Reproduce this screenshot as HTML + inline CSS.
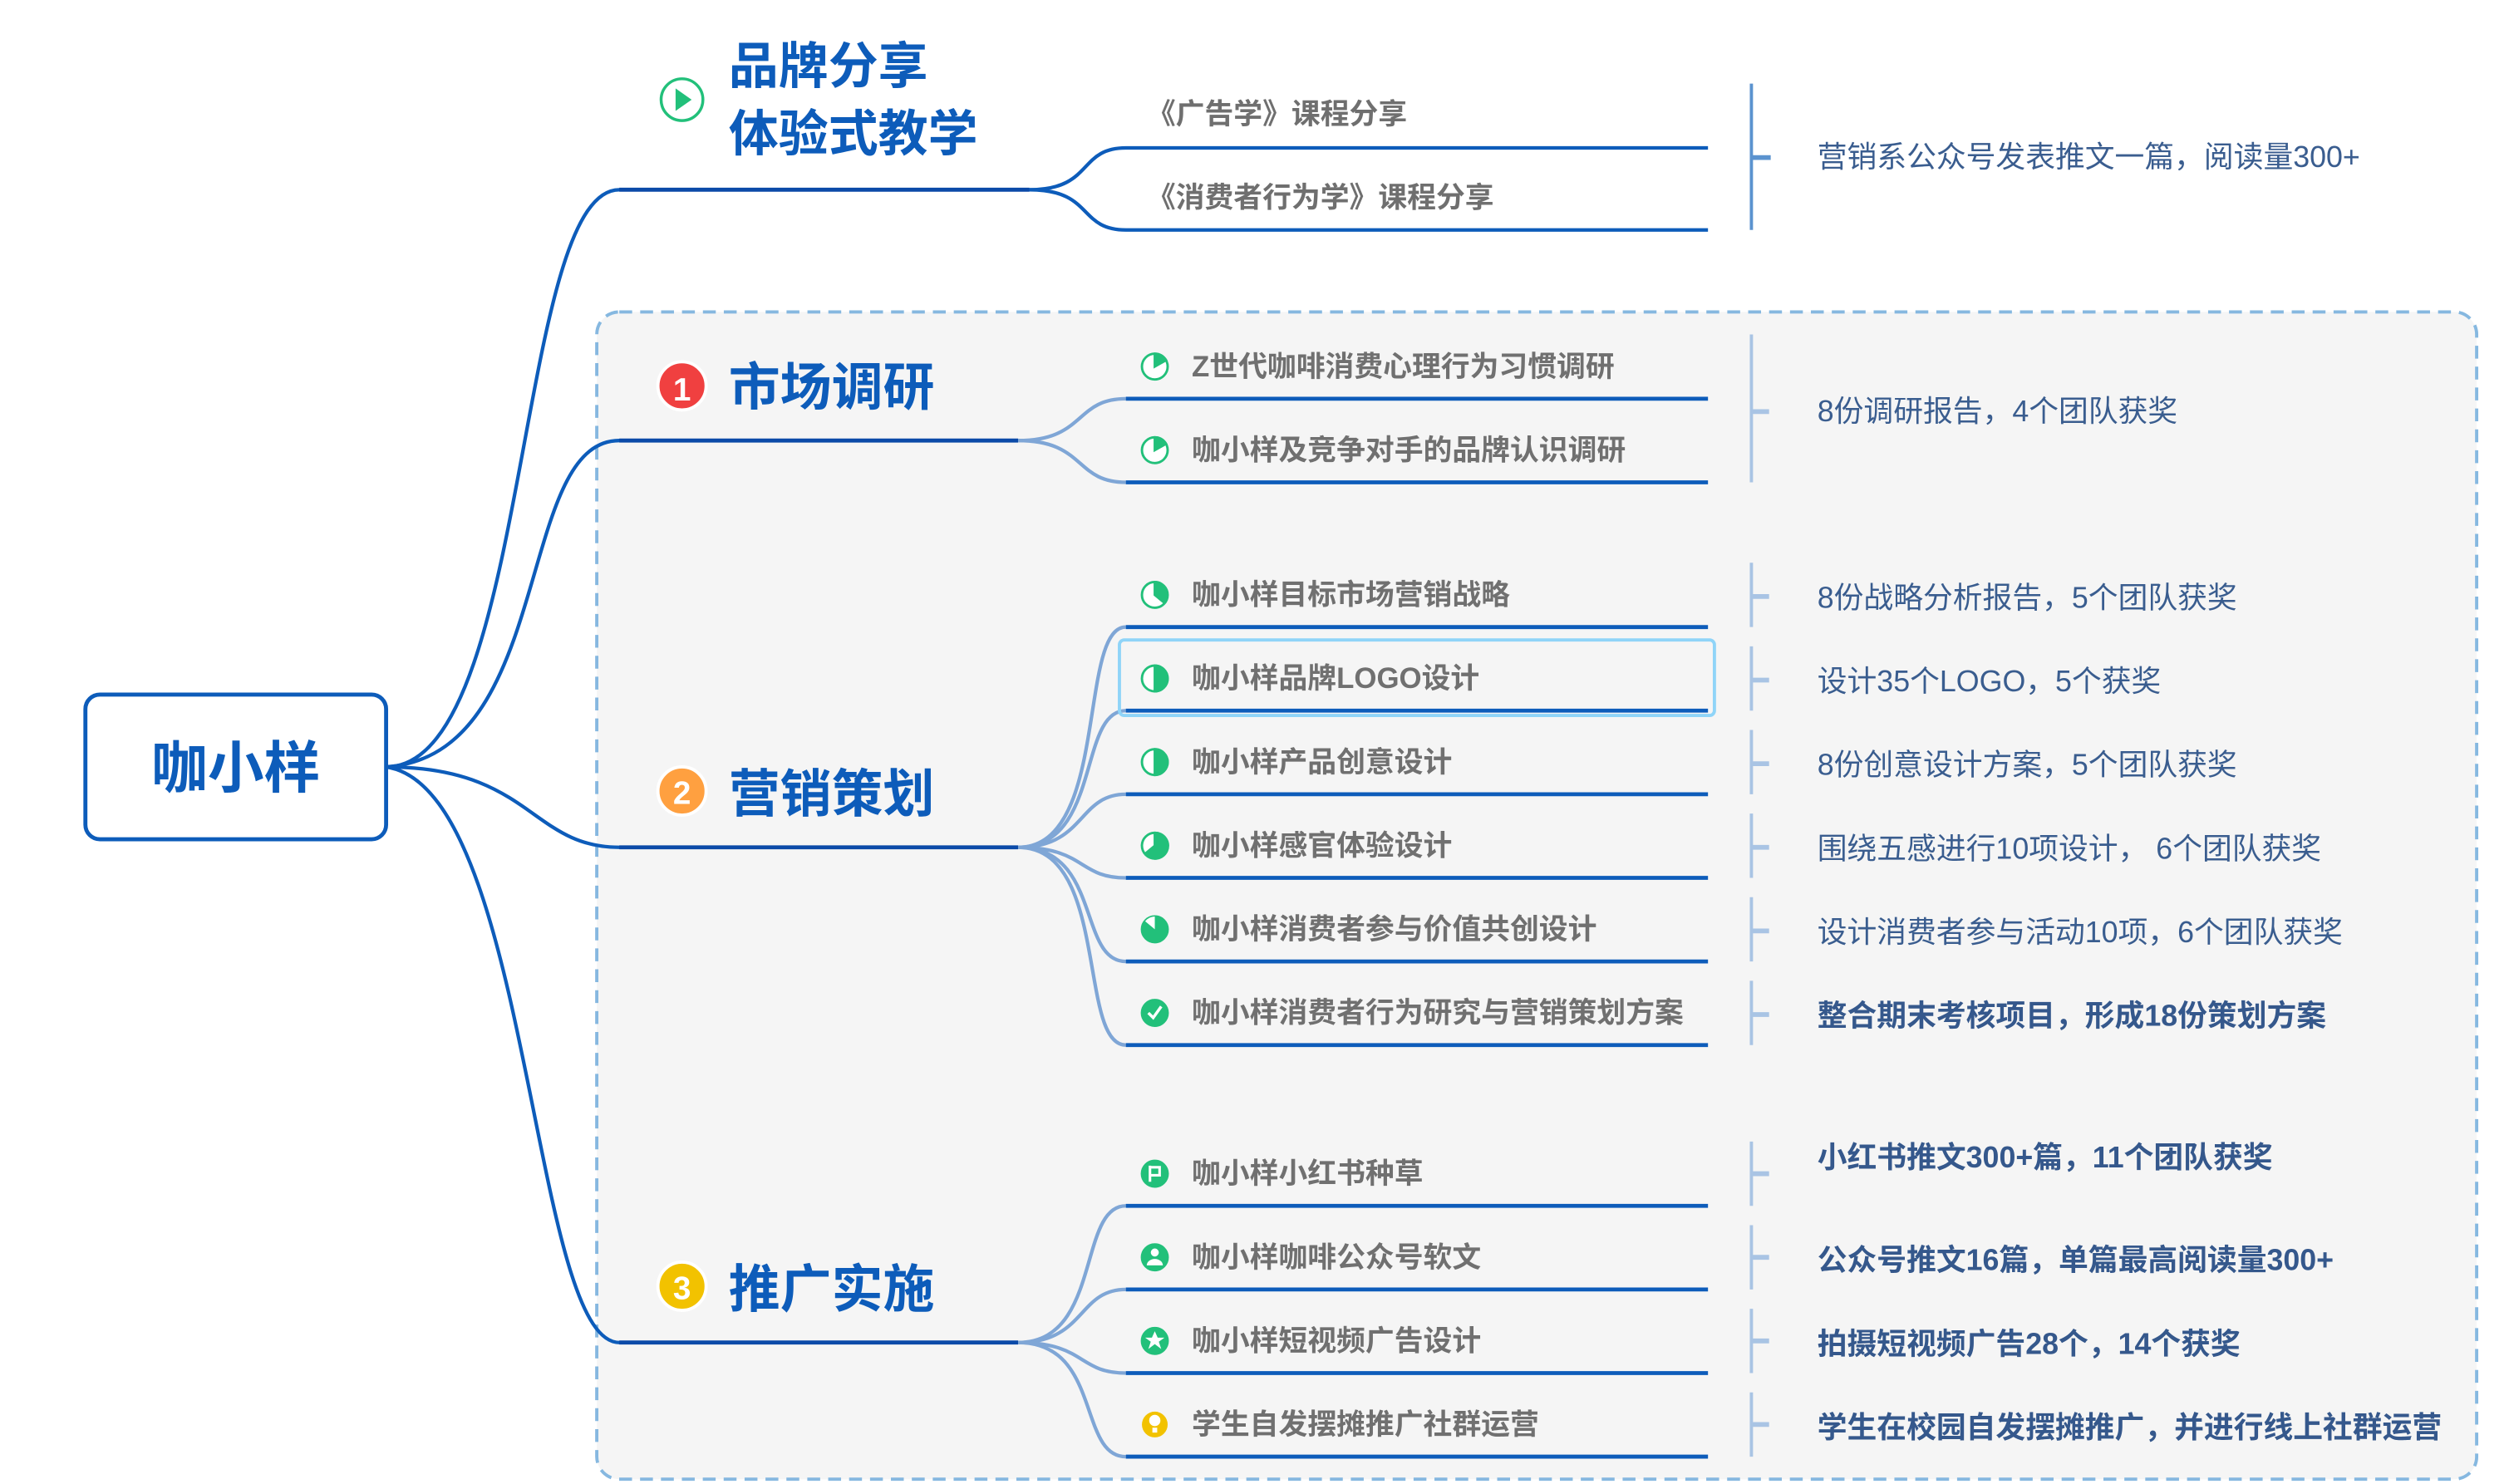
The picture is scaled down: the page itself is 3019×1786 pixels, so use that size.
<!DOCTYPE html>
<html><head><meta charset="utf-8"><style>
html,body{margin:0;padding:0;background:#fff;}
svg{display:block;}
text{font-family:"Liberation Sans","Noto Sans CJK SC",sans-serif;}
</style></head><body>
<svg width="3019" height="1786" viewBox="0 0 1560 923" xmlns="http://www.w3.org/2000/svg">
<rect x="371" y="194" width="1169" height="726" rx="14" fill="#f5f5f5" stroke="#86b8e0" stroke-width="2" stroke-dasharray="8,5"/>

<g fill="none" stroke="#0d5cba" stroke-width="2.2">
<path d="M240,477 C330,477 320,118 385,118 L640,118"/>
<path d="M240,477 C345,470 320,274 385,274 L633,274"/>
<path d="M240,477 C330,477 330,527 385,527 L633,527"/>
<path d="M240,477 C330,490 330,835 385,835 L633,835"/>
</g>
<g fill="none" stroke="#0b4aa8" stroke-width="2.5">
<path d="M385,118 L640,118"/><path d="M385,274 L633,274"/><path d="M385,527 L633,527"/><path d="M385,835 L633,835"/>
</g>

<rect x="53" y="432" width="187" height="90" rx="9" fill="#fff" stroke="#0d5cba" stroke-width="2.5"/>
<text x="146.5" y="490" font-size="35" font-weight="bold" fill="#0d5cba" text-anchor="middle">咖小样</text>

<circle cx="424" cy="62" r="13" fill="#fff" stroke="#22c07a" stroke-width="1.8"/>
<path d="M420,55 L430,62 L420,69 Z" fill="#22c07a"/>
<text x="453" y="52" font-size="31" font-weight="bold" fill="#0d5cba">品牌分享</text>
<text x="453" y="94" font-size="31" font-weight="bold" fill="#0d5cba">体验式教学</text>
<g fill="none" stroke="#0d5cba" stroke-width="2.2">
<path d="M640,118 C680,118 670,92 700,92 L1062,92"/>
<path d="M640,118 C680,118 670,143 700,143 L1062,143"/>
</g>
<text x="713" y="77" font-size="18" font-weight="bold" fill="#6f6f6f">《广告学》课程分享</text>
<text x="713" y="129" font-size="18" font-weight="bold" fill="#6f6f6f">《消费者行为学》课程分享</text>
<line x1="1089" y1="52" x2="1089" y2="143" stroke="#5b93cf" stroke-width="2"/>
<line x1="1089" y1="98" x2="1101" y2="98" stroke="#5b93cf" stroke-width="3"/>
<text x="1130" y="104" font-size="18.5" fill="#3a5d8f">营销系公众号发表推文一篇，阅读量300+</text>

<circle cx="424" cy="240" r="15" fill="#f04040" stroke="#fff" stroke-width="2"/>
<text x="424" y="249" font-size="20" font-weight="bold" fill="#fff" text-anchor="middle">1</text>
<text x="453" y="252" font-size="32" font-weight="bold" fill="#0d5cba">市场调研</text>
<circle cx="424" cy="492" r="15" fill="#ffa040" stroke="#fff" stroke-width="2"/>
<text x="424" y="500" font-size="20" font-weight="bold" fill="#fff" text-anchor="middle">2</text>
<text x="453" y="505" font-size="32" font-weight="bold" fill="#0d5cba">营销策划</text>
<circle cx="424" cy="800" r="15" fill="#f2c200" stroke="#fff" stroke-width="2"/>
<text x="424" y="808" font-size="20" font-weight="bold" fill="#fff" text-anchor="middle">3</text>
<text x="453" y="813" font-size="32" font-weight="bold" fill="#0d5cba">推广实施</text>

<g fill="none" stroke="#7fa6d6" stroke-width="2.2">
<path d="M633,274 C675,274 668,248 700,248"/>
<path d="M633,274 C675,274 668,300 700,300"/>
<path d="M633,527 C690,527 670,390 700,390"/>
<path d="M633,527 C685,527 670,442 700,442"/>
<path d="M633,527 C675,527 670,494 700,494"/>
<path d="M633,527 C675,527 670,546 700,546"/>
<path d="M633,527 C685,527 670,598 700,598"/>
<path d="M633,527 C690,527 670,650 700,650"/>
<path d="M633,835 C685,835 670,750 700,750"/>
<path d="M633,835 C675,835 670,802 700,802"/>
<path d="M633,835 C675,835 670,854 700,854"/>
<path d="M633,835 C685,835 670,906 700,906"/>
</g>
<rect x="696" y="398" width="370" height="47" rx="3" fill="none" stroke="#8fd4f8" stroke-width="2"/>
<g stroke="#0d5cba" stroke-width="2.5">
<line x1="700" y1="248" x2="1062" y2="248"/><line x1="700" y1="300" x2="1062" y2="300"/>
<line x1="700" y1="390" x2="1062" y2="390"/><line x1="700" y1="442" x2="1062" y2="442"/>
<line x1="700" y1="494" x2="1062" y2="494"/><line x1="700" y1="546" x2="1062" y2="546"/>
<line x1="700" y1="598" x2="1062" y2="598"/><line x1="700" y1="650" x2="1062" y2="650"/>
<line x1="700" y1="750" x2="1062" y2="750"/><line x1="700" y1="802" x2="1062" y2="802"/>
<line x1="700" y1="854" x2="1062" y2="854"/><line x1="700" y1="906" x2="1062" y2="906"/>
</g>

<g stroke="#22c07a" stroke-width="1.5">
<circle cx="718" cy="228" r="8" fill="#fff"/><path d="M718,228 L718,220 A8,8 0 0 1 725,224 Z" fill="#22c07a"/>
<circle cx="718" cy="280" r="8" fill="#fff"/><path d="M718,280 L718,272 A8,8 0 0 1 725,276 Z" fill="#22c07a"/>
<circle cx="718" cy="370" r="8" fill="#fff"/><path d="M718,370 L718,362 A8,8 0 0 1 724,375 Z" fill="#22c07a"/>
<circle cx="718" cy="422" r="8" fill="#fff"/><path d="M718,414 A8,8 0 0 1 718,430 Z" fill="#22c07a"/>
<circle cx="718" cy="474" r="8" fill="#fff"/><path d="M718,466 A8,8 0 0 1 718,482 Z" fill="#22c07a"/>
<circle cx="718" cy="526" r="8" fill="#fff"/><path d="M718,526 L718,518 A8,8 0 1 1 712,531 Z" fill="#22c07a"/>
<circle cx="718" cy="578" r="8" fill="#22c07a"/><path d="M718,578 L718,570 A8,8 0 0 0 712,573 Z" fill="#fff" stroke="none"/>
<circle cx="718" cy="630" r="8" fill="#22c07a"/>
<circle cx="718" cy="730" r="8" fill="#22c07a"/>
<circle cx="718" cy="782" r="8" fill="#22c07a"/>
<circle cx="718" cy="834" r="8" fill="#22c07a"/>
</g>
<path d="M714,630 L717,633 L722,626" stroke="#fff" stroke-width="1.8" fill="none"/>
<path d="M715,725 L715,735 M715,726 L721,726 L721,731 L715,731" stroke="#fff" stroke-width="1.6" fill="none"/>
<circle cx="718" cy="779" r="2.5" fill="#fff"/><path d="M713,787 A5,4 0 0 1 723,787 Z" fill="#fff"/>
<path d="M718,828 L719.8,832 L724,832 L720.5,834.5 L722,839 L718,836 L714,839 L715.5,834.5 L712,832 L716.2,832 Z" fill="#fff"/>
<circle cx="718" cy="886" r="8" fill="#f2c200"/>
<path d="M718,880 A3.5,3.5 0 0 1 718,887 A3.5,3.5 0 0 1 718,880 Z M716.5,888 L719.5,888 L719.5,891 L716.5,891 Z" fill="#fff"/>

<g font-size="18" font-weight="bold" fill="#707070">
<text x="741" y="234">Z世代咖啡消费心理行为习惯调研</text>
<text x="741" y="286">咖小样及竞争对手的品牌认识调研</text>
<text x="741" y="376">咖小样目标市场营销战略</text>
<text x="741" y="428">咖小样品牌LOGO设计</text>
<text x="741" y="480">咖小样产品创意设计</text>
<text x="741" y="532">咖小样感官体验设计</text>
<text x="741" y="584">咖小样消费者参与价值共创设计</text>
<text x="741" y="636">咖小样消费者行为研究与营销策划方案</text>
<text x="741" y="736">咖小样小红书种草</text>
<text x="741" y="788">咖小样咖啡公众号软文</text>
<text x="741" y="840">咖小样短视频广告设计</text>
<text x="741" y="892">学生自发摆摊推广社群运营</text>
</g>

<g stroke="#a9c4e4" stroke-width="2">
<line x1="1089" y1="208" x2="1089" y2="300"/>
<line x1="1089" y1="350" x2="1089" y2="390"/>
<line x1="1089" y1="402" x2="1089" y2="442"/>
<line x1="1089" y1="454" x2="1089" y2="494"/>
<line x1="1089" y1="506" x2="1089" y2="546"/>
<line x1="1089" y1="558" x2="1089" y2="598"/>
<line x1="1089" y1="610" x2="1089" y2="650"/>
<line x1="1089" y1="710" x2="1089" y2="750"/>
<line x1="1089" y1="762" x2="1089" y2="802"/>
<line x1="1089" y1="814" x2="1089" y2="854"/>
<line x1="1089" y1="866" x2="1089" y2="906"/>
</g>
<g stroke="#a9c4e4" stroke-width="3">
<line x1="1089" y1="256" x2="1100" y2="256"/>
<line x1="1089" y1="371" x2="1100" y2="371"/>
<line x1="1089" y1="423" x2="1100" y2="423"/>
<line x1="1089" y1="475" x2="1100" y2="475"/>
<line x1="1089" y1="527" x2="1100" y2="527"/>
<line x1="1089" y1="579" x2="1100" y2="579"/>
<line x1="1089" y1="631" x2="1100" y2="631"/>
<line x1="1089" y1="730" x2="1100" y2="730"/>
<line x1="1089" y1="782" x2="1100" y2="782"/>
<line x1="1089" y1="834" x2="1100" y2="834"/>
<line x1="1089" y1="886" x2="1100" y2="886"/>
</g>
<g font-size="18.5" fill="#3a5d8f">
<text x="1130" y="262">8份调研报告，4个团队获奖</text>
<text x="1130" y="378">8份战略分析报告，5个团队获奖</text>
<text x="1130" y="430">设计35个LOGO，5个获奖</text>
<text x="1130" y="482">8份创意设计方案，5个团队获奖</text>
<text x="1130" y="534">围绕五感进行10项设计， 6个团队获奖</text>
<text x="1130" y="586">设计消费者参与活动10项，6个团队获奖</text>
</g>
<g font-size="18.5" font-weight="bold" fill="#35588c">
<text x="1130" y="638">整合期末考核项目，形成18份策划方案</text>
<text x="1130" y="726">小红书推文300+篇，11个团队获奖</text>
<text x="1130" y="790">公众号推文16篇，单篇最高阅读量300+</text>
<text x="1130" y="842">拍摄短视频广告28个，14个获奖</text>
<text x="1130" y="894">学生在校园自发摆摊推广，并进行线上社群运营</text>
</g>
</svg>
</body></html>
